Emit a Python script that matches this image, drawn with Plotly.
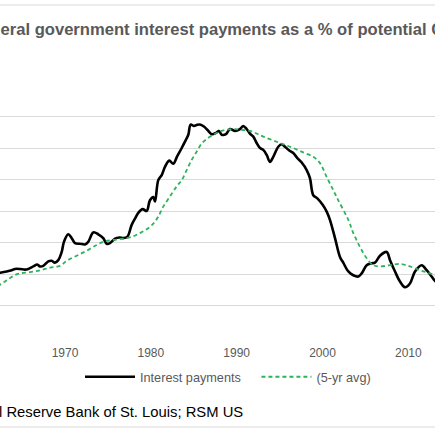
import plotly.graph_objects as go

# Interest payments (% of potential GDP)
ip_year = [1961.5, 1962.43, 1963.21, 1963.79, 1964.17, 1964.76, 1965.34, 1965.72, 1966.31, 1966.77,
           1967.09, 1967.47, 1968.05, 1968.45, 1968.83, 1969.22, 1969.62, 1969.88, 1970.38, 1970.78,
           1971.17, 1971.75, 1972.33, 1972.71, 1973.30, 1973.88, 1974.46, 1974.86, 1975.24, 1975.83,
           1976.33, 1976.79, 1977.26, 1977.77, 1978.16, 1978.54, 1979.05, 1979.52, 1979.90, 1980.29,
           1980.49, 1980.87, 1981.27, 1981.65, 1982.15, 1982.62, 1983.08, 1983.60, 1983.98, 1984.37,
           1984.64, 1985.03, 1985.41, 1985.81, 1986.19, 1986.58, 1987.09, 1987.59, 1987.94, 1988.26,
           1988.76, 1989.22, 1989.81, 1990.39, 1990.77, 1991.17, 1991.55, 1991.94, 1992.33, 1992.72,
           1993.10, 1993.50, 1993.88, 1994.27, 1994.85, 1995.24, 1995.63, 1996.13, 1996.60, 1997.07,
           1997.58, 1998.16, 1998.54, 1998.93, 1999.40, 2000.02, 2000.49, 2000.87, 2001.46, 2002.04,
           2002.42, 2003.01, 2003.59, 2004.17, 2004.57, 2005.15, 2005.73, 2006.12, 2006.70, 2007.48,
           2007.87, 2008.45, 2009.03, 2009.61, 2010.19, 2010.78, 2011.56, 2012.14, 2012.72, 2013.11,
           2013.6]
ip_value = [1.00, 1.02, 1.04, 1.06, 1.08, 1.08, 1.07, 1.08, 1.12, 1.15,
            1.12, 1.13, 1.20, 1.21, 1.18, 1.22, 1.35, 1.51, 1.63, 1.57,
            1.49, 1.48, 1.47, 1.51, 1.66, 1.63, 1.57, 1.48, 1.49, 1.56,
            1.58, 1.57, 1.59, 1.78, 1.88, 1.97, 2.03, 2.00, 2.17, 2.22,
            2.15, 2.49, 2.57, 2.70, 2.80, 2.75, 2.87, 3.00, 3.10, 3.21,
            3.37, 3.35, 3.37, 3.37, 3.34, 3.29, 3.22, 3.24, 3.27, 3.21,
            3.22, 3.30, 3.27, 3.30, 3.35, 3.30, 3.23, 3.18, 3.08, 3.00,
            2.97, 2.89, 2.78, 2.86, 3.02, 3.06, 3.02, 2.96, 2.92, 2.84,
            2.77, 2.65, 2.52, 2.25, 2.20, 2.10, 1.99, 1.86, 1.57, 1.27,
            1.18, 1.04, 0.98, 0.96, 1.01, 1.14, 1.17, 1.18, 1.29, 1.35,
            1.22, 1.04, 0.88, 0.79, 0.85, 1.04, 1.14, 1.06, 0.96, 0.89,
            0.84]

# 5-year average
avg_year = [1961.5, 1962.43, 1963.21, 1963.98, 1964.76, 1965.92, 1967.09, 1968.25, 1969.42, 1970.20,
            1971.36, 1972.53, 1973.69, 1974.46, 1975.63, 1976.79, 1977.96, 1978.74, 1979.52, 1980.29,
            1980.87, 1981.45, 1982.23, 1983.01, 1983.60, 1984.18, 1984.76, 1985.34, 1985.92, 1986.58,
            1987.28, 1988.06, 1988.84, 1989.81, 1990.39, 1991.55, 1992.33, 1993.10, 1994.27, 1995.43,
            1996.60, 1997.76, 1998.93, 1999.71, 2000.49, 2001.26, 2001.84, 2003.01, 2003.59, 2004.37,
            2005.15, 2005.92, 2006.70, 2007.87, 2009.03, 2010.19, 2011.36, 2012.52, 2013.11, 2013.6]
avg_value = [0.74, 0.83, 0.90, 0.97, 1.01, 1.03, 1.06, 1.10, 1.13, 1.21,
             1.29, 1.37, 1.46, 1.51, 1.54, 1.56, 1.60, 1.65, 1.71, 1.80,
             1.91, 2.07, 2.23, 2.39, 2.49, 2.65, 2.81, 2.94, 3.07, 3.15,
             3.21, 3.26, 3.29, 3.30, 3.29, 3.27, 3.23, 3.18, 3.12, 3.06,
             3.00, 2.93, 2.86, 2.76, 2.54, 2.33, 2.17, 1.86, 1.65, 1.43,
             1.25, 1.14, 1.12, 1.14, 1.16, 1.12, 1.06, 1.01, 0.98, 0.95]

x_ticks = [1970, 1980, 1990, 2000, 2010]
y_grid = [0, 0.5, 1.0, 1.5, 2.0, 2.5, 3.0, 3.5, 4.0]

title_text = "Federal government interest payments as a % of potential GDP"
source_text = "Source: Federal Reserve Bank of St. Louis; RSM US"
series_names = ["Interest payments", "(5-yr avg)"]

W, H = 435, 435
top, bottom = 85, 337  # plot area in px

fig = go.Figure()
fig.add_trace(go.Scatter(x=ip_year, y=ip_value, mode="lines",
                         name=series_names[0] + "\u00a0\u00a0\u00a0",
                         line=dict(color="#000000", width=2.6), line_shape="spline"))
fig.add_trace(go.Scatter(x=avg_year, y=avg_value, mode="lines", name=series_names[1],
                         line=dict(color="#2DB35A", width=1.8, dash="4px,3px"), line_shape="spline"))

def py(px):
    return (bottom - px) / (bottom - top)

fig.update_layout(
    width=W, height=H,
    margin=dict(l=0, r=0, t=top, b=H - bottom, pad=0),
    paper_bgcolor="white", plot_bgcolor="white",
    font=dict(family="Liberation Sans, Arial, sans-serif", color="#595959", size=12),
    showlegend=True,
    legend=dict(orientation="h", x=80 / W, xanchor="left", y=py(377), yanchor="middle",
                font=dict(size=12.7, color="#595959"), itemwidth=50, bgcolor="rgba(0,0,0,0)",
                tracegroupgap=0),
    xaxis=dict(range=[1962.43, 2013.11], tickvals=x_ticks, ticktext=[str(v) for v in x_ticks],
               showgrid=False, zeroline=False, showline=False, ticks="", ticklabelstandoff=7,
               tickfont=dict(size=12, color="#595959")),
    yaxis=dict(range=[0, 4.0], tickvals=y_grid, showticklabels=False, showgrid=True,
               gridcolor="#D9D9D9", gridwidth=1.2, zeroline=False, showline=False, ticks=""),
)

# chart border lines (top/bottom)
for ypx in [5, 427]:
    fig.add_shape(type="line", xref="paper", yref="paper", x0=0, x1=1,
                  y0=py(ypx), y1=py(ypx), line=dict(color="#D9D9D9", width=1.2))

fig.add_annotation(text="<b>" + title_text + "</b>", xref="paper", yref="paper",
                   x=-31.5 / W, xanchor="left", y=py(29.5), yanchor="middle", showarrow=False,
                   font=dict(size=16.6, color="#595959"))
fig.add_annotation(text=source_text, xref="paper", yref="paper",
                   x=245 / W, xanchor="right", y=py(412), yanchor="middle", showarrow=False,
                   font=dict(size=14.8, color="#000000"))

fig.write_html("out.html", config={"displayModeBar": False},
               post_script="document.body.style.margin='0px';document.body.style.overflow='hidden';")
